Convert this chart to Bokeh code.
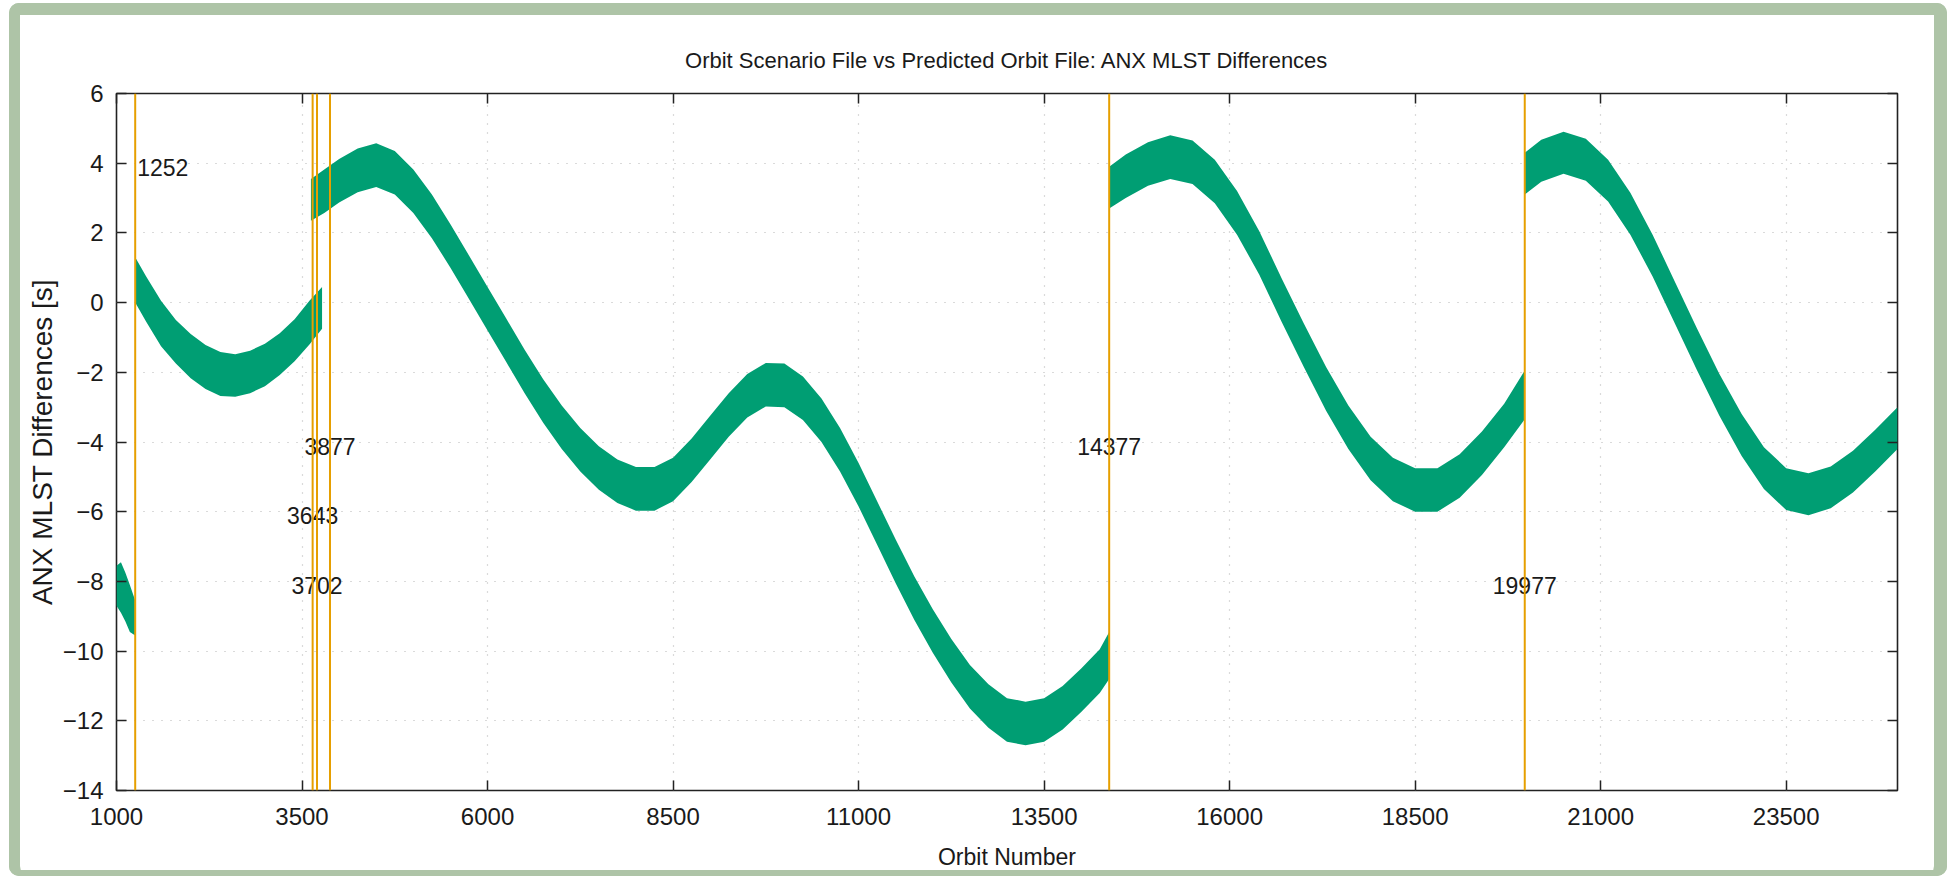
from bokeh.plotting import figure
from bokeh.models import FixedTicker, LinearAxis, Span, Title
from bokeh.core.properties import value
from bokeh.embed import file_html
from bokeh.resources import INLINE

# ---------------- data ----------------
x_ticks = [1000, 3500, 6000, 8500, 11000, 13500, 16000, 18500, 21000, 23500]
y_ticks = [-14, -12, -10, -8, -6, -4, -2, 0, 2, 4, 6]

# band of ANX MLST differences: orbit number, upper and lower edge of the point cloud [s]
seg1_x = [1000, 1060, 1120, 1180, 1252]
seg1_hi = [-7.55, -7.45, -7.75, -8.10, -8.55]
seg1_lo = [-8.70, -8.90, -9.15, -9.45, -9.55]

seg2_x = [1252, 1400, 1600, 1800, 2000, 2200, 2400, 2600, 2800, 3000, 3200, 3400, 3600, 3770]
seg2_hi = [1.30, 0.75, 0.05, -0.50, -0.90, -1.22, -1.42, -1.48, -1.38, -1.18, -0.88, -0.48, 0.05, 0.45]
seg2_lo = [0.00, -0.55, -1.25, -1.75, -2.17, -2.48, -2.68, -2.70, -2.60, -2.40, -2.08, -1.68, -1.20, -0.75]

seg3_x = [3620, 3800, 4000, 4250, 4500, 4750, 5000, 5250, 5500, 5750, 6000, 6250, 6500, 6750,
          7000, 7250, 7500, 7750, 8000, 8250, 8500, 8750, 9000, 9250, 9500, 9750, 10000, 10250,
          10500, 10750, 11000, 11250, 11500, 11750, 12000, 12250, 12500, 12750, 13000, 13250,
          13500, 13750, 14000, 14250, 14377]
seg3_hi = [3.55, 3.82, 4.12, 4.42, 4.57, 4.35, 3.82, 3.10, 2.25, 1.35, 0.45, -0.45, -1.35, -2.20,
           -2.95, -3.60, -4.12, -4.50, -4.72, -4.72, -4.45, -3.90, -3.25, -2.60, -2.05, -1.73, -1.75, -2.12,
           -2.75, -3.60, -4.60, -5.70, -6.80, -7.85, -8.80, -9.65, -10.40, -10.95, -11.35, -11.45,
           -11.35, -11.00, -10.50, -9.95, -9.45]
seg3_lo = [2.35, 2.57, 2.87, 3.17, 3.32, 3.10, 2.57, 1.85, 1.00, 0.10, -0.80, -1.70, -2.60, -3.45,
           -4.20, -4.85, -5.37, -5.75, -5.97, -5.97, -5.70, -5.15, -4.50, -3.85, -3.30, -2.98, -3.00, -3.37,
           -4.00, -4.85, -5.85, -6.95, -8.05, -9.10, -10.05, -10.90, -11.65, -12.20, -12.60, -12.70,
           -12.60, -12.25, -11.75, -11.20, -10.80]

seg4_x = [14377, 14600, 14900, 15200, 15500, 15800, 16100, 16400, 16700, 17000, 17300, 17600,
          17900, 18200, 18500, 18800, 19100, 19400, 19700, 19977]
seg4_hi = [3.90, 4.25, 4.60, 4.80, 4.65, 4.10, 3.20, 2.05, 0.70, -0.60, -1.85, -2.95, -3.85,
           -4.45, -4.75, -4.75, -4.35, -3.70, -2.90, -1.95]
seg4_lo = [2.70, 3.00, 3.35, 3.55, 3.40, 2.85, 1.95, 0.80, -0.55, -1.85, -3.10, -4.20, -5.10,
           -5.70, -6.00, -6.00, -5.60, -4.95, -4.15, -3.35]

seg5_x = [19977, 20200, 20500, 20800, 21100, 21400, 21700, 22000, 22300, 22600, 22900, 23200,
          23500, 23800, 24100, 24400, 24700, 25000]
seg5_hi = [4.30, 4.67, 4.90, 4.70, 4.10, 3.15, 1.95, 0.60, -0.75, -2.05, -3.20, -4.15, -4.75,
           -4.90, -4.70, -4.25, -3.65, -3.00]
seg5_lo = [3.10, 3.47, 3.70, 3.50, 2.90, 1.95, 0.75, -0.60, -1.95, -3.25, -4.40, -5.35, -5.95,
           -6.10, -5.90, -5.45, -4.85, -4.20]

segments = [(seg1_x, seg1_lo, seg1_hi), (seg2_x, seg2_lo, seg2_hi), (seg3_x, seg3_lo, seg3_hi),
            (seg4_x, seg4_lo, seg4_hi), (seg5_x, seg5_lo, seg5_hi)]

# vertical markers and their labels
marker_x = [1252, 3643, 3702, 3877, 14377, 19977]
marker_y = [4, -6, -8, -4, -4, -8]
marker_text = ["1252", "3643", "3702", "3877", "14377", "19977"]

title_text = "Orbit Scenario File vs Predicted Orbit File: ANX MLST Differences"
x_label = "Orbit Number"
y_label = "ANX MLST Differences [s]"

# ---------------- styling ----------------
FONT = "Liberation Sans"
GREEN = "#009e73"
ORANGE = "#e69f00"
TXT = "#1a1a1a"
FRAME = "#aec4a7"

p = figure(width=1938, height=873, x_range=(1000, 25000), y_range=(-14, 6),
           output_backend="svg", toolbar_location=None,
           min_border_left=107, min_border_right=50, min_border_top=90, min_border_bottom=86)
# sage-green picture frame painted inside the canvas edges
p.styles = {
    "margin-top": "3px",
    "margin-left": "9px",
    "background-color": "white",
    "border-radius": "10px",
    "box-shadow": (f"inset 11px 0 0 0 {FRAME}, inset -13px 0 0 0 {FRAME}, "
                   f"inset 0 12px 0 0 {FRAME}, inset 0 -6px 0 0 {FRAME}"),
}

p.background_fill_color = "white"
p.border_fill_color = None
p.outline_line_color = "#222222"
p.outline_line_width = 1.6

p.title = Title(text=title_text, align="center", text_font=FONT, text_font_size="22px",
                text_font_style="normal", text_color=TXT, standoff=41)

def style_axis(ax, labels=True):
    ax.axis_line_color = None
    ax.major_tick_in = 10
    ax.major_tick_out = 0
    ax.major_tick_line_color = "#222222"
    ax.major_tick_line_width = 1.5
    ax.minor_tick_line_color = None
    ax.major_label_text_font = FONT
    ax.major_label_text_color = TXT
    ax.axis_label_text_font = FONT
    ax.axis_label_text_font_style = "normal"
    ax.axis_label_text_color = TXT
    if labels:
        ax.major_label_text_font_size = "24px"
    else:
        # mirror axis: ticks only, labels not drawn
        ax.major_label_text_color = None
        ax.major_label_text_font_size = "1px"
        ax.major_label_standoff = 0

xb = p.xaxis[0]
yl = p.yaxis[0]
xb.ticker = FixedTicker(ticks=x_ticks)
yl.ticker = FixedTicker(ticks=y_ticks)
style_axis(xb)
style_axis(yl)
xb.major_label_standoff = 17
yl.major_label_standoff = 13
xb.axis_label = x_label
yl.axis_label = y_label
xb.axis_label_text_font_size = "23px"
yl.axis_label_text_font_size = "28px"
xb.axis_label_standoff = 16
yl.axis_label_standoff = 2

xt = LinearAxis(ticker=FixedTicker(ticks=x_ticks))
yr = LinearAxis(ticker=FixedTicker(ticks=y_ticks))
style_axis(xt, labels=False)
style_axis(yr, labels=False)
p.add_layout(xt, "above")
p.add_layout(yr, "right")

for g in (p.xgrid[0], p.ygrid[0]):
    g.grid_line_color = "#b5b5b5"
    g.grid_line_dash = "1 8"
    g.grid_line_width = 1.2
p.xgrid[0].ticker = FixedTicker(ticks=x_ticks)
p.ygrid[0].ticker = FixedTicker(ticks=y_ticks)

for sx, slo, shi in segments:
    p.varea(x=sx, y1=slo, y2=shi, fill_color=GREEN, fill_alpha=1.0)

for mx in marker_x:
    p.add_layout(Span(location=mx, dimension="height", line_color=ORANGE, line_width=2))

# first label is left-aligned next to its marker, the rest are centred on theirs
p.text(x=marker_x[:1], y=marker_y[:1], text=marker_text[:1], text_align="left",
       text_baseline="middle", x_offset=2, y_offset=4,
       text_font=value(FONT), text_font_size="23px", text_color=TXT)
p.text(x=marker_x[1:], y=marker_y[1:], text=marker_text[1:], text_align="center",
       text_baseline="middle", y_offset=4,
       text_font=value(FONT), text_font_size="23px", text_color=TXT)

open("out.html", "w").write(file_html(p, INLINE))
